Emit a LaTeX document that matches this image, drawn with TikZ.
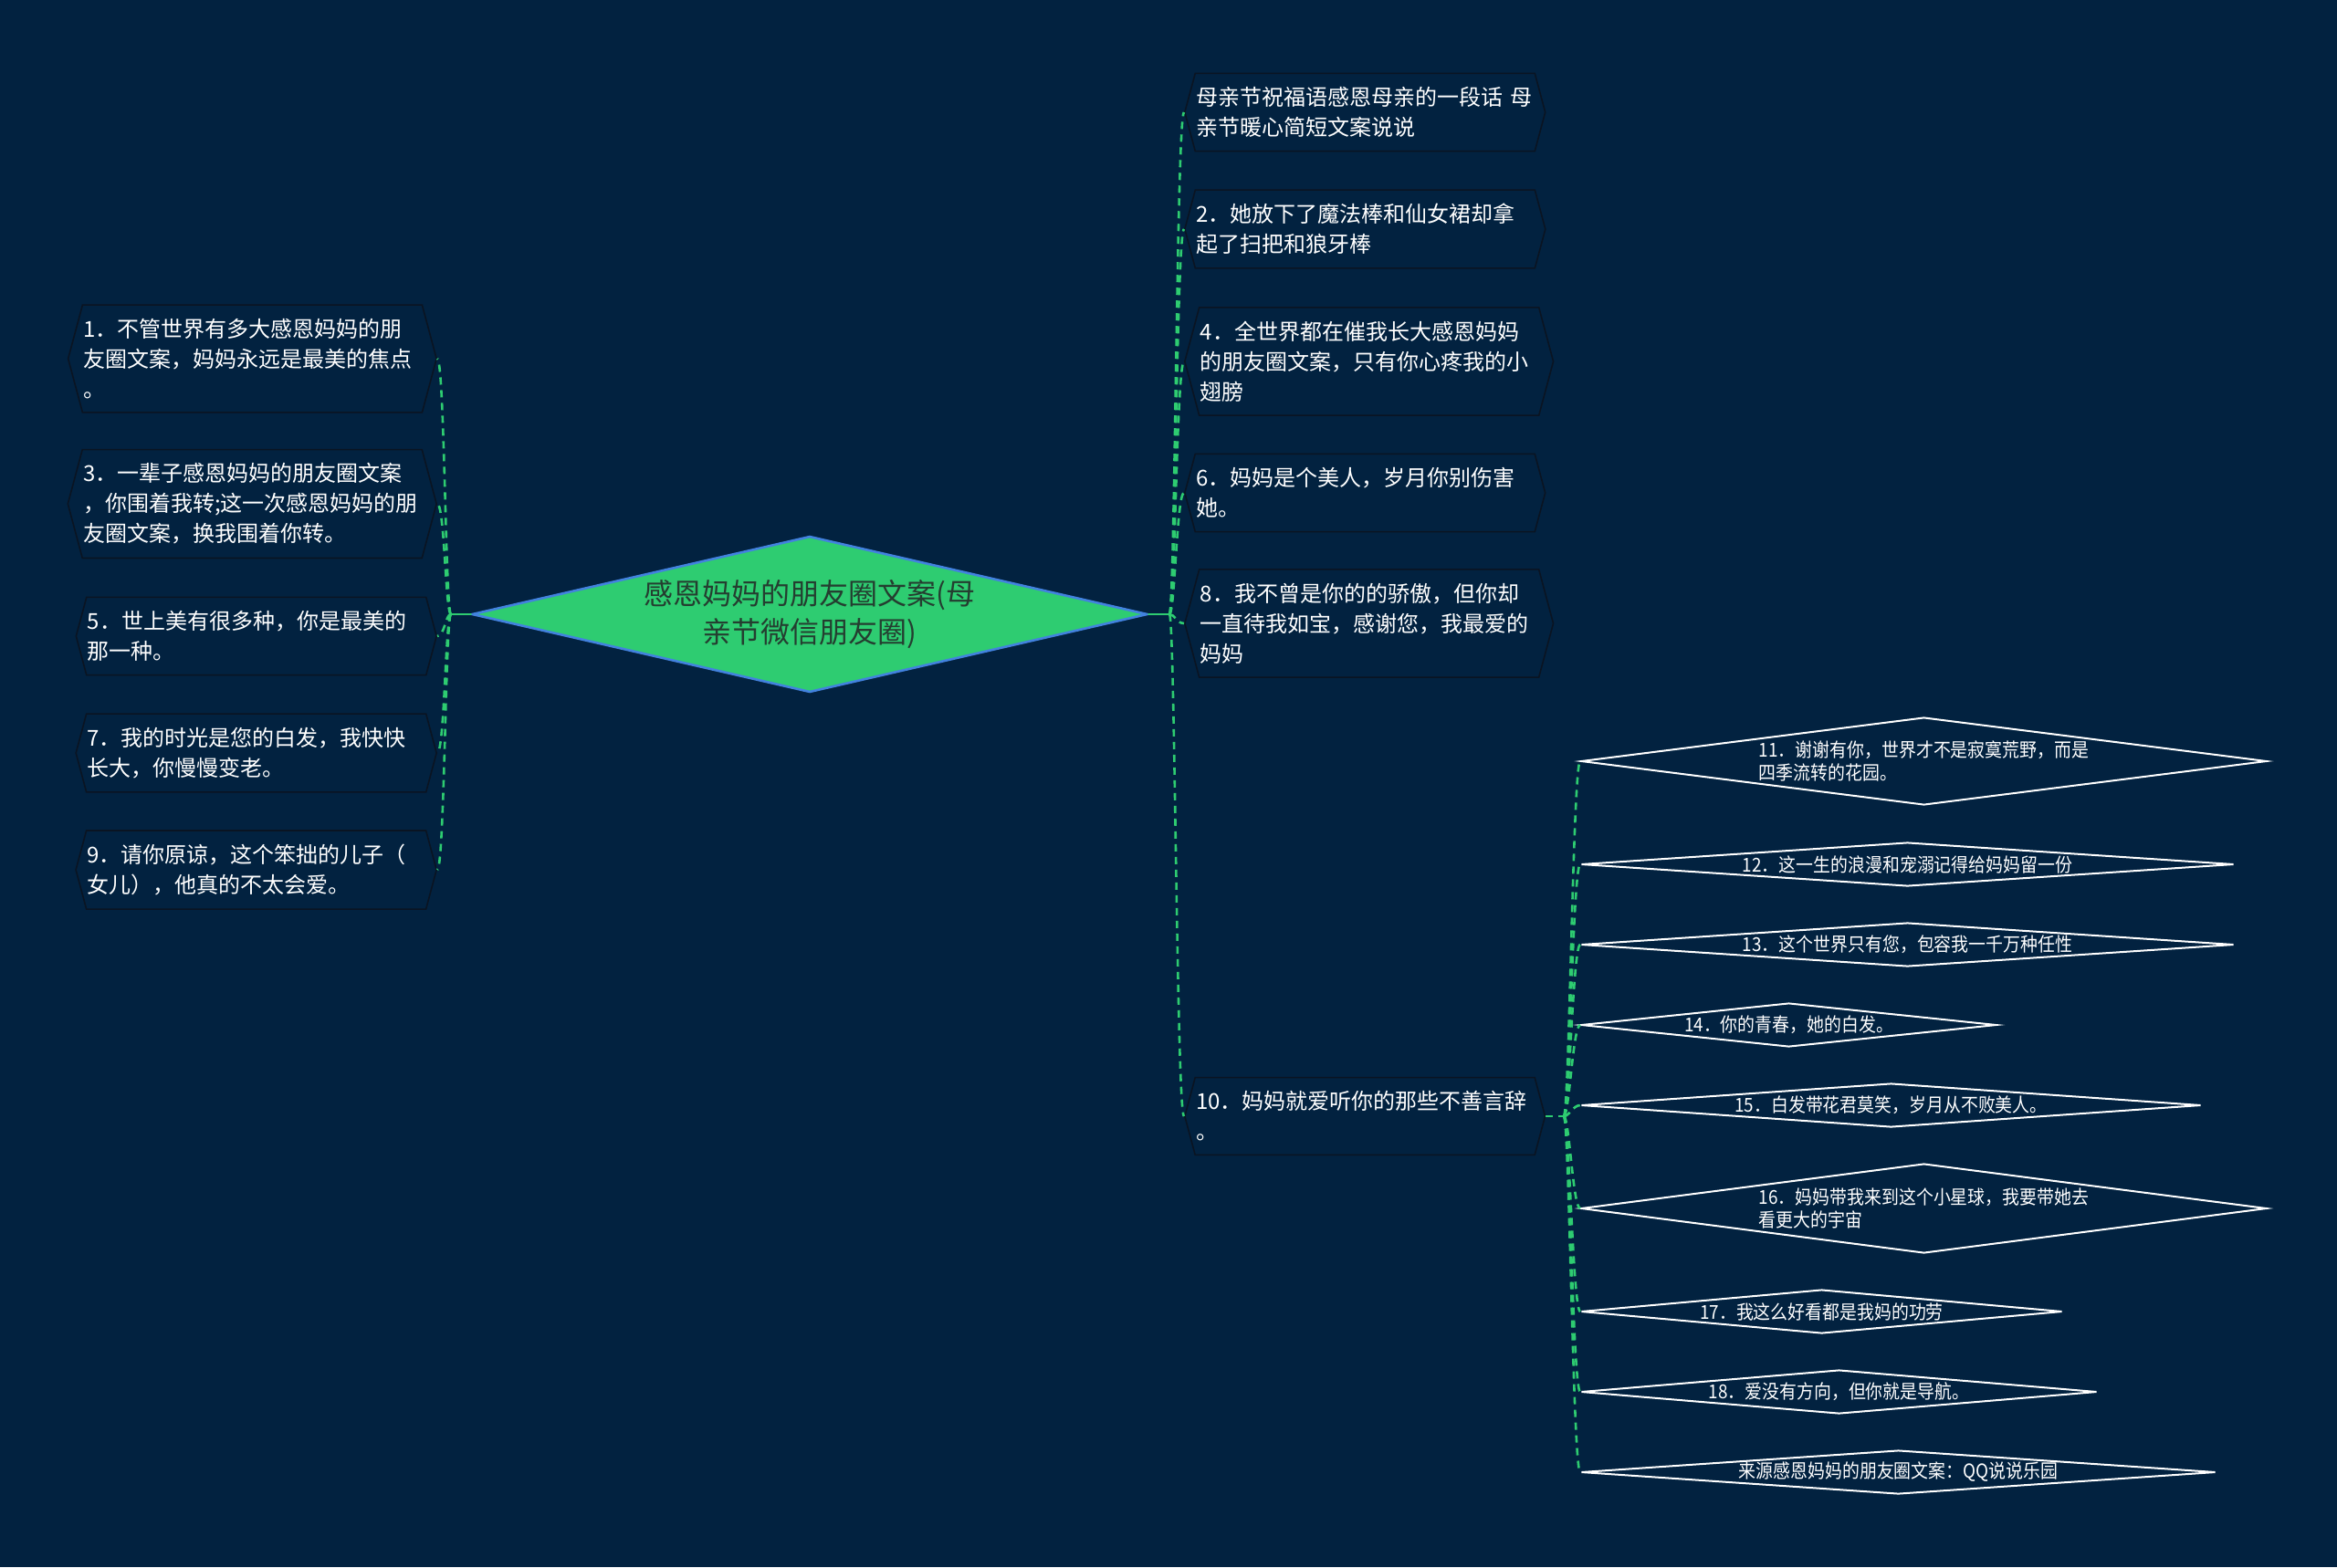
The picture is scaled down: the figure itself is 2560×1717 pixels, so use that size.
\documentclass[tikz,border=0pt]{standalone}
\usepackage{fontspec}
\setmainfont{Noto Sans CJK SC}
\newfontfamily\slimfont[FakeStretch=0.9]{Noto Sans CJK SC}
\usetikzlibrary{shapes.geometric,shapes.symbols}

\definecolor{bgnavy}{RGB}{2,34,64}
\definecolor{leafgreen}{RGB}{46,204,113}
\definecolor{rimblue}{RGB}{66,130,222}
\definecolor{hubink}{RGB}{36,62,48}
\definecolor{boxrim}{RGB}{10,20,34}

\begin{document}
\begin{tikzpicture}[x=1pt,y=1pt,line cap=round,
	dashlink/.style={leafgreen,line width=2.6pt,dash pattern=on 8pt off 6pt,line cap=butt},
	stemline/.style={leafgreen,line width=2.6pt},
	hubdia/.style={diamond,aspect=4.33,minimum width=740pt,minimum height=171pt,
		inner sep=0pt,fill=leafgreen,draw=rimblue,line width=2.6pt,text=hubink,
		align=center,font=\fontsize{32}{42}\selectfont},
	textbox/.style={signal,signal to=west and east,signal pointer angle=150,
		draw=boxrim,line width=1.6pt,fill=bgnavy,text=white,align=left,
		text width=370pt,inner xsep=1pt,inner ysep=15pt,
		font=\fontsize{24}{33}\selectfont},
	subdia/.style={diamond,draw=white,line width=2pt,fill=bgnavy,text=white,
		inner sep=0pt,align=left,font=\slimfont\fontsize{21}{24.5}\selectfont}]
	
	% ---- 画布 ----
	\useasboundingbox (0,0) rectangle (2560,-1717);
	\fill[bgnavy] (0,0) rectangle (2560,-1717);
	
	% ---- 中心主题 ----
	\node[hubdia] (hub) at (887,-673) {感恩妈妈的朋友圈文案(母\\亲节微信朋友圈)};
	
	% ---- 左侧分支 ----
	\node[textbox,anchor=east] (l1) at (479,-393) {1．不管世界有多大感恩妈妈的朋\\友圈文案，妈妈永远是最美的焦点\\。};
	\node[textbox,anchor=east] (l3) at (479,-552) {3．一辈子感恩妈妈的朋友圈文案\\，你围着我转;这一次感恩妈妈的朋\\友圈文案，换我围着你转。};
	\node[textbox,anchor=east] (l5) at (479,-697) {5．世上美有很多种，你是最美的\\那一种。};
	\node[textbox,anchor=east] (l7) at (479,-825) {7．我的时光是您的白发，我快快\\长大，你慢慢变老。};
	\node[textbox,anchor=east] (l9) at (479,-953) {9．请你原谅，这个笨拙的儿子（\\女儿），他真的不太会爱。};
	
	% ---- 右侧分支 ----
	\node[textbox,anchor=west] (r0) at (1297,-123) {母亲节祝福语感恩母亲的一段话~母\\亲节暖心简短文案说说};
	\node[textbox,anchor=west] (r2) at (1297,-251) {2．她放下了魔法棒和仙女裙却拿\\起了扫把和狼牙棒};
	\node[textbox,anchor=west] (r4) at (1297,-396) {4．全世界都在催我长大感恩妈妈\\的朋友圈文案，只有你心疼我的小\\翅膀};
	\node[textbox,anchor=west] (r6) at (1297,-540) {6．妈妈是个美人，岁月你别伤害\\她。};
	\node[textbox,anchor=west] (r8) at (1297,-683) {8．我不曾是你的的骄傲，但你却\\一直待我如宝，感谢您，我最爱的\\妈妈};
	\node[textbox,anchor=west] (r10) at (1297,-1223) {10．妈妈就爱听你的那些不善言辞\\。};
	
	% ---- 第 10 条下的子项 ----
	\node[subdia,anchor=west,minimum width=751pt,minimum height=96pt,aspect=7.8] (s11) at (1731,-834) {11．谢谢有你，世界才不是寂寞荒野，而是\\四季流转的花园。};
	\node[subdia,anchor=west,minimum width=715pt,minimum height=48pt,aspect=14.9] (s12) at (1731,-947) {12．这一生的浪漫和宠溺记得给妈妈留一份};
	\node[subdia,anchor=west,minimum width=715pt,minimum height=48pt,aspect=14.9] (s13) at (1731,-1035) {13．这个世界只有您，包容我一千万种任性};
	\node[subdia,anchor=west,minimum width=455pt,minimum height=48pt,aspect=9.5] (s14) at (1731,-1123) {14．你的青春，她的白发。};
	\node[subdia,anchor=west,minimum width=679pt,minimum height=48pt,aspect=14.1] (s15) at (1731,-1211) {15．白发带花君莫笑，岁月从不败美人。};
	\node[subdia,anchor=west,minimum width=751pt,minimum height=98pt,aspect=7.7] (s16) at (1731,-1324) {16．妈妈带我来到这个小星球，我要带她去\\看更大的宇宙};
	\node[subdia,anchor=west,minimum width=527pt,minimum height=48pt,aspect=11] (s17) at (1731,-1437) {17．我这么好看都是我妈的功劳};
	\node[subdia,anchor=west,minimum width=565pt,minimum height=48pt,aspect=11.8] (s18) at (1731,-1525) {18．爱没有方向，但你就是导航。};
	\node[subdia,anchor=west,minimum width=695pt,minimum height=48pt,aspect=14.5] (s19) at (1731,-1613) {来源感恩妈妈的朋友圈文案：QQ说说乐园};
	
	% ---- 连接点 ----
	\coordinate (jl) at (494,-673);
	\coordinate (jr) at (1281,-673);
	\coordinate (js) at (1713,-1223);
	
	% ---- 左侧连线 ----
	\draw[stemline] (hub.west) -- (jl);
	\draw[dashlink] (jl) .. controls +(-6,0) and +(8,0) .. (l1.east);
	\draw[dashlink] (jl) .. controls +(-6,0) and +(8,0) .. (l3.east);
	\draw[dashlink] (jl) .. controls +(-6,0) and +(8,0) .. (l5.east);
	\draw[dashlink] (jl) .. controls +(-6,0) and +(8,0) .. (l7.east);
	\draw[dashlink] (jl) .. controls +(-6,0) and +(8,0) .. (l9.east);
	
	% ---- 右侧连线 ----
	\draw[stemline] (hub.east) -- (jr);
	\draw[dashlink] (jr) .. controls +(6,0) and +(-8,0) .. (r0.west);
	\draw[dashlink] (jr) .. controls +(6,0) and +(-8,0) .. (r2.west);
	\draw[dashlink] (jr) .. controls +(6,0) and +(-8,0) .. (r4.west);
	\draw[dashlink] (jr) .. controls +(6,0) and +(-8,0) .. (r6.west);
	\draw[dashlink] (jr) .. controls +(6,0) and +(-8,0) .. (r8.west);
	\draw[dashlink] (jr) .. controls +(6,0) and +(-8,0) .. (r10.west);
	
	% ---- 子项连线 ----
	\draw[dashlink] (r10.east) -- (js);
	\draw[dashlink] (js) .. controls +(6,0) and +(-8,0) .. (s11.west);
	\draw[dashlink] (js) .. controls +(6,0) and +(-8,0) .. (s12.west);
	\draw[dashlink] (js) .. controls +(6,0) and +(-8,0) .. (s13.west);
	\draw[dashlink] (js) .. controls +(6,0) and +(-8,0) .. (s14.west);
	\draw[dashlink] (js) .. controls +(6,0) and +(-8,0) .. (s15.west);
	\draw[dashlink] (js) .. controls +(6,0) and +(-8,0) .. (s16.west);
	\draw[dashlink] (js) .. controls +(6,0) and +(-8,0) .. (s17.west);
	\draw[dashlink] (js) .. controls +(6,0) and +(-8,0) .. (s18.west);
	\draw[dashlink] (js) .. controls +(6,0) and +(-8,0) .. (s19.west);
	
\end{tikzpicture}
\end{document}
